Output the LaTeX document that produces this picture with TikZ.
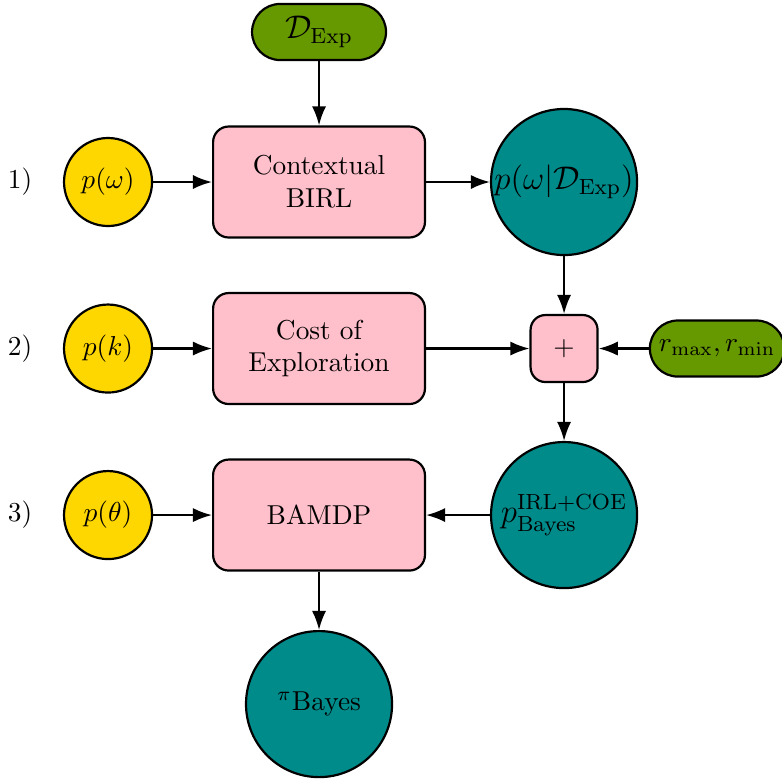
\documentclass[tikz,border=0pt]{standalone}
\usepackage{amsmath}
\usetikzlibrary{positioning,arrows.meta}
\definecolor{priorcol}{RGB}{255,215,0}
\definecolor{proccol}{RGB}{255,192,203}
\definecolor{postcol}{RGB}{0,139,139}
\definecolor{datacol}{RGB}{102,153,0}
\tikzset{
  prior/.style={circle, draw, thick, fill=priorcol, minimum size=1.13cm, inner sep=0pt},
  post/.style={circle, draw, thick, fill=postcol, minimum size=1.875cm, inner sep=0pt, font=\large},
  proc/.style={draw, thick, rounded corners=0.2cm, fill=proccol, minimum width=2.72cm, minimum height=1.425cm, align=center},
  datanode/.style={draw, thick, rounded corners=0.36cm, fill=datacol, minimum height=0.72cm},
}
\begin{document}
\begin{tikzpicture}[>={Latex[length=7pt,width=5.2pt]}, on grid]
\useasboundingbox (0,0) rectangle (10.04,-10.03);
% priors
\node[prior] (pw) at (1.387,-2.337) {$p(\omega)$};
\node[prior, below=2.138cm of pw] (pk) {$p(k)$};
\node[prior, below=2.138cm of pk] (pt) {$p(\theta)$};
\node[left=1.13cm of pw] (l1) {1)};
\node[left=1.13cm of pk] (l2) {2)};
\node[left=1.13cm of pt] (l3) {3)};
% processing
\node[proc, right=2.709cm of pw] (birl) {Contextual\\ BIRL};
\node[proc, right=2.709cm of pk] (coe) {Cost of\\ Exploration};
\node[proc, right=2.709cm of pt] (bamdp) {BAMDP};
\node[datanode, font=\large, minimum width=1.72cm, above=1.926cm of birl] (dexp) {$\mathcal{D}_{\text{Exp}}$};
% posteriors
\node[post, right=3.146cm of birl] (pomega) {$p(\omega|\mathcal{D}_{\text{Exp}})$};
\node[draw, thick, rounded corners=0.19cm, fill=proccol, minimum size=0.86cm, right=3.146cm of coe] (plus) {$+$};
\node[post, right=3.146cm of bamdp] (pbayes) {$p^{\text{IRL+COE}}_{\text{Bayes}}$};
\node[datanode, minimum width=1.67cm, right=1.965cm of plus] (rew) {$r_{\max}, r_{\min}$};
\node[post, font=\normalsize, below=2.427cm of bamdp] (pib) {$^{\pi}$Bayes};
\draw[->, thick] (dexp) -- (birl);
\draw[->, thick] (pw) -- (birl);
\draw[->, thick] (birl) -- (pomega);
\draw[->, thick] (pomega) -- (plus);
\draw[->, thick] (pk) -- (coe);
\draw[->, thick] (coe) -- (plus);
\draw[->, thick] (rew) -- (plus);
\draw[->, thick] (plus) -- (pbayes);
\draw[->, thick] (pbayes) -- (bamdp);
\draw[->, thick] (pt) -- (bamdp);
\draw[->, thick] (bamdp) -- (pib);
\end{tikzpicture}
\end{document}
